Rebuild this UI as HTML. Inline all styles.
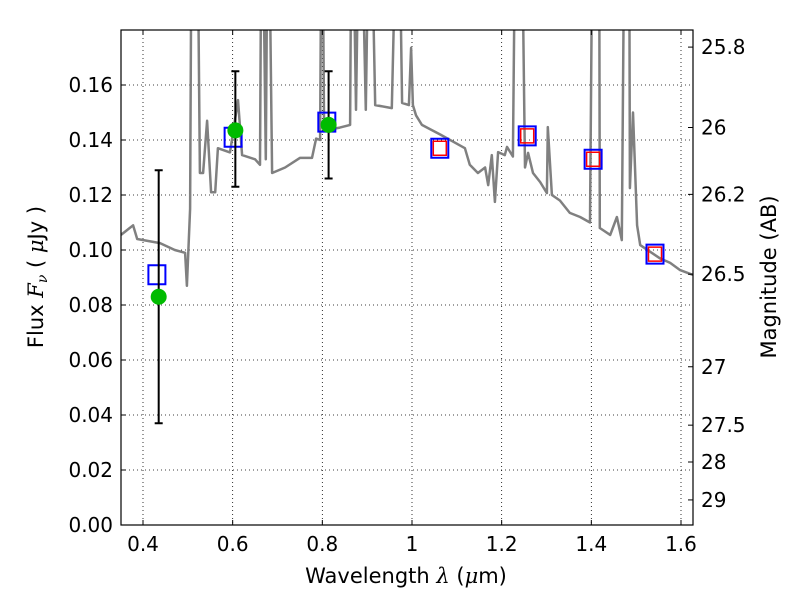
<!DOCTYPE html>
<html><head><meta charset="utf-8"><style>
body{margin:0;background:#fff}
svg text{font-family:"DejaVu Sans","Liberation Sans",sans-serif;font-size:20px;fill:#000}
</style></head><body>
<svg id="chart" width="800" height="600" xmlns="http://www.w3.org/2000/svg">
<g id="grid"></g>
<g id="plot"></g>
<g id="axes"></g>
<text x="406" y="583" text-anchor="middle" style="font-size:21px">Wavelength  <tspan font-style="italic" font-family="DejaVu Serif">λ</tspan> (<tspan font-style="italic" font-family="DejaVu Serif">μ</tspan>m)</text>
<text transform="translate(43,277) rotate(-90)" text-anchor="middle" style="font-size:21px">Flux  <tspan font-style="italic" font-family="DejaVu Serif">F</tspan><tspan font-style="italic" font-family="DejaVu Serif" font-size="14" dy="4">ν</tspan><tspan dy="-4">  ( </tspan><tspan font-style="italic" font-family="DejaVu Serif">μ</tspan>Jy )</text>
<text transform="translate(776,277) rotate(-90)" text-anchor="middle" style="font-size:21px">Magnitude (AB)</text>
</svg>
<script>
const specLam=[0.351,0.378,0.387,0.438,0.471,0.494,0.498,0.505,0.509,0.520,0.527,0.534,0.543,0.552,0.561,0.567,0.594,0.612,0.621,0.650,0.661,0.665,0.674,0.679,0.688,0.717,0.750,0.777,0.786,0.795,0.799,0.804,0.839,0.862,0.866,0.875,0.884,0.897,0.906,0.918,0.955,0.969,0.978,0.993,0.998,1.002,1.009,1.022,1.063,1.096,1.118,1.129,1.147,1.163,1.170,1.178,1.185,1.192,1.207,1.212,1.225,1.232,1.243,1.252,1.259,1.270,1.286,1.301,1.303,1.312,1.330,1.352,1.375,1.397,1.404,1.417,1.419,1.442,1.457,1.468,1.475,1.484,1.486,1.493,1.502,1.509,1.553,1.576,1.598,1.627];
const specFlux=[0.1055,0.109,0.104,0.1025,0.100,0.099,0.087,0.115,0.25,0.25,0.128,0.128,0.147,0.121,0.121,0.137,0.1355,0.1545,0.1345,0.133,0.131,0.25,0.133,0.25,0.128,0.130,0.1335,0.1335,0.1405,0.140,0.25,0.1435,0.1445,0.1455,0.25,0.151,0.25,0.151,0.25,0.1527,0.1516,0.25,0.1535,0.1527,0.1735,0.1527,0.149,0.1455,0.142,0.139,0.137,0.131,0.128,0.130,0.1236,0.1345,0.1175,0.1356,0.1345,0.1375,0.134,0.25,0.25,0.130,0.1353,0.128,0.1247,0.1207,0.1447,0.120,0.118,0.1135,0.112,0.110,0.25,0.25,0.108,0.1055,0.112,0.1036,0.25,0.25,0.1225,0.150,0.109,0.1018,0.097,0.0953,0.0927,0.0909];
const obsLam=[0.435,0.606,0.814];
const obsFlux=[0.083,0.1435,0.1455];
const obsLo=[0.037,0.123,0.126];
const obsHi=[0.129,0.165,0.165];
const modelLam=[0.431,0.601,0.810,1.062,1.257,1.404,1.542];
const modelFlux=[0.091,0.141,0.1465,0.137,0.1415,0.133,0.0985];
const redLam=[1.062,1.257,1.404,1.542];
const redFlux=[0.137,0.1415,0.133,0.0985];
const xTicks=[0.4,0.6,0.8,1.0,1.2,1.4,1.6];
const xTickLabels=["0.4","0.6","0.8","1","1.2","1.4","1.6"];
const yTicks=[0,0.02,0.04,0.06,0.08,0.1,0.12,0.14,0.16];
const yTickLabels=["0.00","0.02","0.04","0.06","0.08","0.10","0.12","0.14","0.16"];
const magTicks=[25.8,26,26.2,26.5,27,27.5,28,29];
const magTickLabels=["25.8","26","26.2","26.5","27","27.5","28","29"];

const L=121,R=693,T=30,B=525;
const X=v=>143+(v-0.4)*448.33;
const Y=v=>B-v*2750;
const NS="http://www.w3.org/2000/svg";
function mk(par,tag,at){const e=document.createElementNS(NS,tag);for(const k in at)e.setAttribute(k,at[k]);document.getElementById(par).appendChild(e);return e;}
const defs=document.createElementNS(NS,"defs");defs.innerHTML='<clipPath id="c"><rect x="121" y="30" width="572" height="495"/></clipPath>';document.getElementById('chart').prepend(defs);
xTicks.forEach((t,i)=>{const l=mk('grid','line',{x1:X(t),x2:X(t),y1:T,y2:B,stroke:'#000','stroke-dasharray':'1,3','stroke-width':0.8});

const tx=mk('axes','text',{x:X(t),y:B+26,'text-anchor':'middle'});tx.textContent=xTickLabels[i];

mk('axes','line',{x1:X(t),x2:X(t),y1:B,y2:B-5,stroke:'#000'});mk('axes','line',{x1:X(t),x2:X(t),y1:T,y2:T+5,stroke:'#000'});});
yTicks.forEach((t,i)=>{const l=mk('grid','line',{x1:L,x2:R,y1:Y(t),y2:Y(t),stroke:'#000','stroke-dasharray':'1,3','stroke-width':0.8});

const tx=mk('axes','text',{x:L-8,y:Y(t)+7,'text-anchor':'end'});tx.textContent=yTickLabels[i];

mk('axes','line',{x1:L,x2:L+5,y1:Y(t),y2:Y(t),stroke:'#000'});});
magTicks.forEach((m,i)=>{const f=Math.pow(10,(23.9-m)/2.5);const y=Y(f);
mk('axes','line',{x1:R,x2:R-5,y1:y,y2:y,stroke:'#000'});
const tx=mk('axes','text',{x:R+8,y:y+7});tx.textContent=magTickLabels[i];
});
let d=specLam.map((v,i)=>(i?'L':'M')+X(v).toFixed(1)+','+Y(specFlux[i]).toFixed(1)).join('');
const sp=mk('plot','path',{d:d,fill:'none',stroke:'#808080','stroke-width':2.5,'stroke-linejoin':'round','clip-path':'url(#c)'});

modelLam.forEach((v,i)=>{const r=mk('plot','rect',{x:X(v)-8.5,y:Y(modelFlux[i])-9.5,width:17,height:19,fill:'none',stroke:'#0000ff','stroke-width':2});
});
redLam.forEach((v,i)=>{const r=mk('plot','rect',{x:X(v)-6.5,y:Y(redFlux[i])-7,width:13,height:14,fill:'none',stroke:'#ff0000','stroke-width':1.5});
});
obsLam.forEach((v,i)=>{const x=X(v);
const e=mk('plot','path',{d:`M${x},${Y(obsLo[i])}V${Y(obsHi[i])}M${x-4},${Y(obsLo[i])}h8M${x-4},${Y(obsHi[i])}h8`,stroke:'#000','stroke-width':2,fill:'none'});

const c=mk('plot','circle',{cx:x,cy:Y(obsFlux[i]),r:8,fill:'#00bb00'});
});
const fr=mk('axes','rect',{x:L,y:T,width:R-L,height:B-T,fill:'none',stroke:'#000','stroke-width':1.2});

</script>
</body></html>
